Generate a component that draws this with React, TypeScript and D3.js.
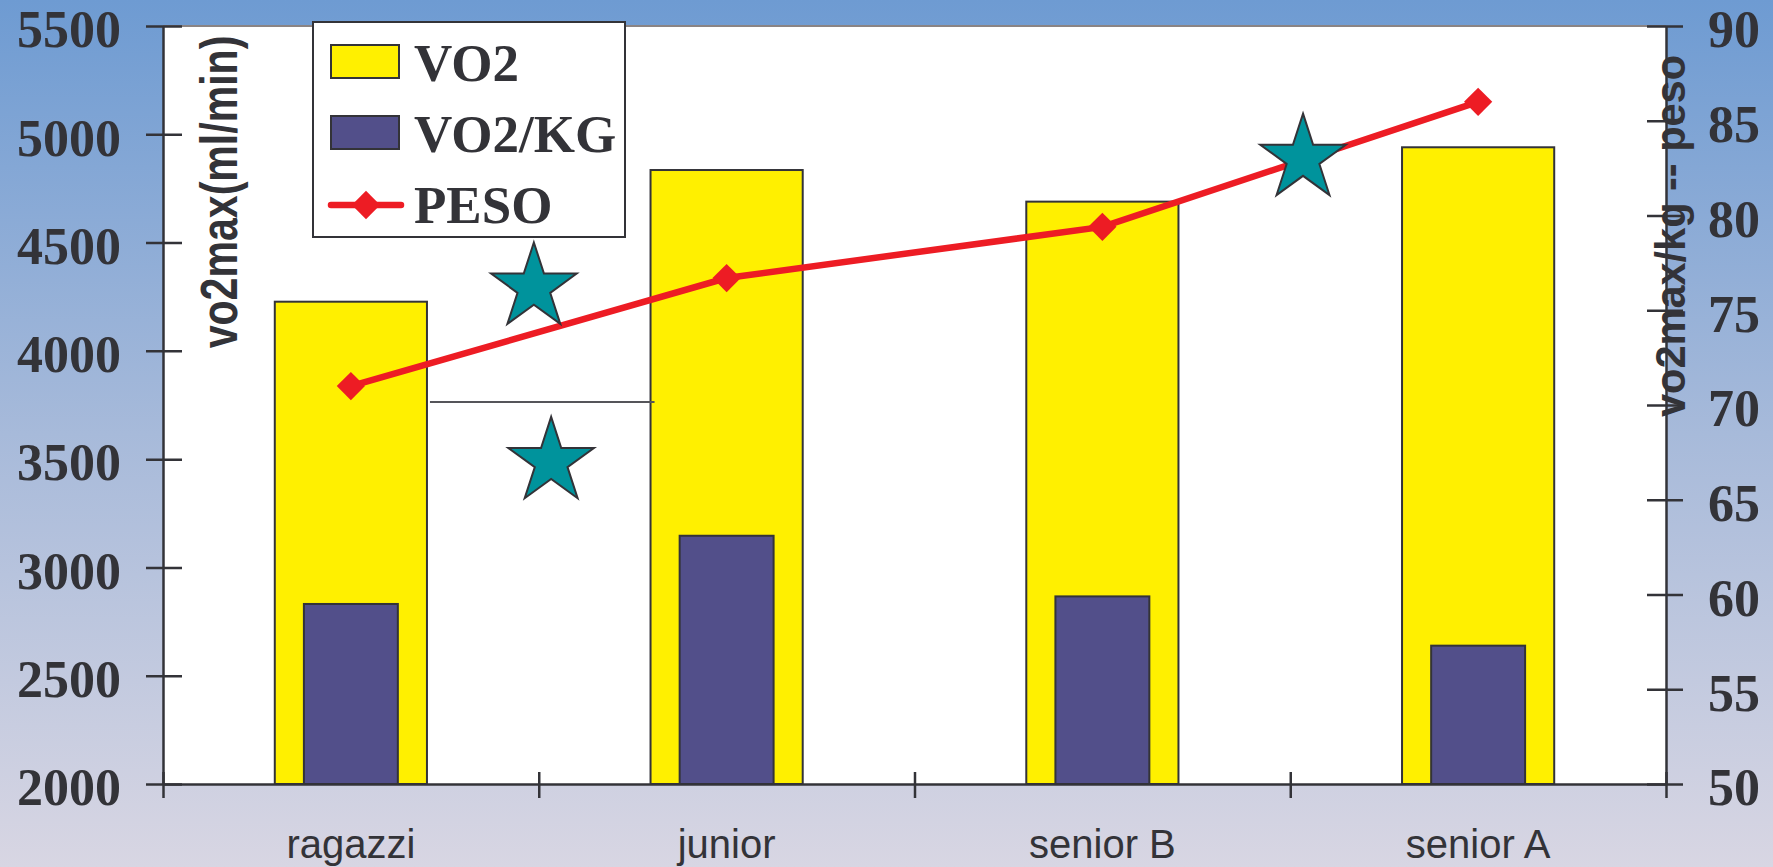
import React, { useEffect, useRef } from "react";
import * as d3 from "d3";

const categories = ["ragazzi", "junior", "senior B", "senior A"];
const vo2 = [4227, 4835, 4689, 4940];
const vo2kg = [59.5, 63.1, 59.9, 57.3];
const peso = [71.0, 76.7, 79.4, 86.0];
const leftTicks = [2000, 2500, 3000, 3500, 4000, 4500, 5000, 5500];
const rightTicks = [50, 55, 60, 65, 70, 75, 80, 85, 90];
// significance stars: position along the category axis (in category units) and value on right axis
const starPos = [0.987, 1.033, 3.034];
const starValue = [76.2, 67.0, 83.0];
// comparison bracket between ragazzi and junior (left axis value)
const bracketValue = 3764;

const App = () => {
  const svgRef = useRef(null);

  useEffect(() => {
    const svg = d3.select(svgRef.current);
    const W = 1773;
    const H = 867;
    const left = 163;
    const right = 1666;
    const top = 26;
    const bottom = 784;
    const dark = "#333338";

    const defs = svg.append("defs");
    const grad = defs
      .append("linearGradient")
      .attr("id", "bg")
      .attr("x1", 0)
      .attr("y1", 0)
      .attr("x2", 0)
      .attr("y2", 1);
    grad.append("stop").attr("offset", "0%").attr("stop-color", "#6e9bd2");
    grad.append("stop").attr("offset", "50%").attr("stop-color", "#a7bada");
    grad.append("stop").attr("offset", "100%").attr("stop-color", "#d8d6e3");

    svg.append("rect").attr("width", W).attr("height", H).attr("fill", "url(#bg)");

    // plot area
    svg
      .append("rect")
      .attr("x", left)
      .attr("y", top)
      .attr("width", right - left)
      .attr("height", bottom - top)
      .attr("fill", "#ffffff");
    svg
      .append("line")
      .attr("x1", left)
      .attr("x2", right)
      .attr("y1", top)
      .attr("y2", top)
      .attr("stroke", "#8a8484")
      .attr("stroke-width", 2);

    const xScale = d3.scaleBand().domain(categories).range([left, right]);
    const xIdx = d3.scaleLinear().domain([0, categories.length]).range([left, right]);
    const yLeft = d3.scaleLinear().domain([2000, 5500]).range([bottom, top]);
    const yRight = d3.scaleLinear().domain([50, 90]).range([bottom, top]);

    const bw = xScale.bandwidth();
    const bigW = bw * 0.405;
    const smallW = bw * 0.25;
    const cx = (c) => xScale(c) + bw / 2;

    // VO2 bars
    svg
      .append("g")
      .selectAll("rect")
      .data(categories)
      .enter()
      .append("rect")
      .attr("x", (d) => cx(d) - bigW / 2)
      .attr("y", (d, i) => yLeft(vo2[i]))
      .attr("width", bigW)
      .attr("height", (d, i) => bottom - yLeft(vo2[i]))
      .attr("fill", "#fff000")
      .attr("stroke", dark)
      .attr("stroke-width", 2);

    // VO2/KG bars
    svg
      .append("g")
      .selectAll("rect")
      .data(categories)
      .enter()
      .append("rect")
      .attr("x", (d) => cx(d) - smallW / 2)
      .attr("y", (d, i) => yRight(vo2kg[i]))
      .attr("width", smallW)
      .attr("height", (d, i) => bottom - yRight(vo2kg[i]))
      .attr("fill", "#524f8a")
      .attr("stroke", dark)
      .attr("stroke-width", 2);

    // bracket line
    svg
      .append("line")
      .attr("x1", cx(categories[0]) + bigW / 2 + 3)
      .attr("x2", cx(categories[1]) - bigW / 2 + 4)
      .attr("y1", yLeft(bracketValue))
      .attr("y2", yLeft(bracketValue))
      .attr("stroke", "#55555a")
      .attr("stroke-width", 2);

    // PESO line
    const line = d3
      .line()
      .x((d, i) => cx(categories[i]))
      .y((d) => yRight(d));
    svg
      .append("path")
      .attr("d", line(peso))
      .attr("fill", "none")
      .attr("stroke", "#ed1c24")
      .attr("stroke-width", 6.5);

    const diamond = d3.symbol(d3.symbolSquare, 400);
    svg
      .append("g")
      .selectAll("path")
      .data(peso)
      .enter()
      .append("path")
      .attr("d", diamond())
      .attr("transform", (d, i) => `translate(${cx(categories[i])},${yRight(d)}) rotate(45)`)
      .attr("fill", "#ed1c24");

    // stars
    const star = d3.symbol(d3.symbolStar, 2273);
    svg
      .append("g")
      .selectAll("path")
      .data(starPos)
      .enter()
      .append("path")
      .attr("d", star())
      .attr("transform", (d, i) => `translate(${xIdx(d)},${yRight(starValue[i])})`)
      .attr("fill", "#00939c")
      .attr("stroke", dark)
      .attr("stroke-width", 2)
      .attr("stroke-linejoin", "miter");

    const fmt = d3.format("d");

    // left axis
    const gl = svg
      .append("g")
      .attr("transform", `translate(${left},0)`)
      .call(
        d3
          .axisLeft(yLeft)
          .tickValues(leftTicks)
          .tickFormat(fmt)
          .tickSize(17)
          .tickPadding(25)
          .tickSizeOuter(0)
      );
    gl.selectAll(".tick line").attr("x1", 19).attr("x2", -17);
    gl.selectAll("line, path").attr("stroke", dark).attr("stroke-width", 2.5);
    gl.selectAll("text")
      .attr("dy", "0.4em")
      .attr("fill", dark)
      .style("font-family", "'Liberation Serif', 'Times New Roman', serif")
      .style("font-weight", "bold")
      .style("font-size", "52px");

    // right axis
    const gr = svg
      .append("g")
      .attr("transform", `translate(${right},0)`)
      .call(
        d3
          .axisRight(yRight)
          .tickValues(rightTicks)
          .tickFormat(fmt)
          .tickSize(17)
          .tickPadding(25)
          .tickSizeOuter(0)
      );
    gr.selectAll(".tick line").attr("x1", -19).attr("x2", 17);
    gr.selectAll("line, path").attr("stroke", dark).attr("stroke-width", 2.5);
    gr.selectAll("text")
      .attr("dy", "0.4em")
      .attr("fill", dark)
      .style("font-family", "'Liberation Serif', 'Times New Roman', serif")
      .style("font-weight", "bold")
      .style("font-size", "52px");

    // bottom axis: boundary ticks
    const gb = svg
      .append("g")
      .attr("transform", `translate(0,${bottom})`)
      .call(
        d3
          .axisBottom(xIdx)
          .tickValues(d3.range(categories.length + 1))
          .tickFormat(() => "")
          .tickSize(14)
          .tickSizeOuter(0)
      );
    gb.selectAll(".tick line").attr("y1", -12).attr("y2", 14);
    gb.selectAll("line, path").attr("stroke", dark).attr("stroke-width", 2.5);

    // category labels
    const gc = svg
      .append("g")
      .attr("transform", `translate(0,${bottom})`)
      .call(d3.axisBottom(xScale).tickSize(0).tickPadding(0));
    gc.select(".domain").remove();
    gc.selectAll("text")
      .attr("y", 74)
      .attr("dy", 0)
      .attr("fill", dark)
      .style("font-family", "'Liberation Sans', Arial, sans-serif")
      .style("font-size", "40px");

    // axis titles (left one is condensed in the original)
    svg
      .append("text")
      .attr("transform", `translate(237,192) rotate(-90) scale(0.79,1)`)
      .attr("text-anchor", "middle")
      .attr("fill", dark)
      .style("font-family", "'Liberation Sans', Arial, sans-serif")
      .style("font-weight", "bold")
      .style("font-size", "52px")
      .text("vo2max(ml/min)");

    svg
      .append("text")
      .attr("transform", `translate(1685,236) rotate(-90) scale(0.965,1)`)
      .attr("text-anchor", "middle")
      .attr("fill", dark)
      .style("font-family", "'Liberation Sans', Arial, sans-serif")
      .style("font-weight", "bold")
      .style("font-size", "43px")
      .text("vo2max/kg -- peso");

    // legend
    const lg = svg.append("g").attr("transform", "translate(313,22)");
    lg.append("rect")
      .attr("width", 312)
      .attr("height", 215)
      .attr("fill", "#ffffff")
      .attr("stroke", dark)
      .attr("stroke-width", 2);
    const legendItems = [
      { label: "VO2", kind: "bar", color: "#fff000" },
      { label: "VO2/KG", kind: "bar", color: "#524f8a" },
      { label: "PESO", kind: "line", color: "#ed1c24" },
    ];
    legendItems.forEach((it, i) => {
      const yc = 40 + i * 71;
      if (it.kind === "bar") {
        lg.append("rect")
          .attr("x", 18)
          .attr("y", yc - 17)
          .attr("width", 68)
          .attr("height", 33)
          .attr("fill", it.color)
          .attr("stroke", dark)
          .attr("stroke-width", 2);
      } else {
        lg.append("line")
          .attr("x1", 18)
          .attr("x2", 88)
          .attr("y1", yc + 1)
          .attr("y2", yc + 1)
          .attr("stroke", it.color)
          .attr("stroke-width", 6.5)
          .attr("stroke-linecap", "round");
        lg.append("path")
          .attr("d", diamond())
          .attr("transform", `translate(53,${yc + 1}) rotate(45)`)
          .attr("fill", it.color);
      }
      lg.append("text")
        .attr("x", 101)
        .attr("y", yc + 19)
        .attr("fill", dark)
        .style("font-family", "'Liberation Serif', 'Times New Roman', serif")
        .style("font-weight", "bold")
        .style("font-size", "53px")
        .text(it.label);
    });

    return () => {
      svg.selectAll("*").remove();
    };
  }, []);

  return (
    <svg
      ref={svgRef}
      width={1773}
      height={867}
      style={{ position: "absolute", left: 0, top: 0, display: "block" }}
    />
  );
};

export default App;
